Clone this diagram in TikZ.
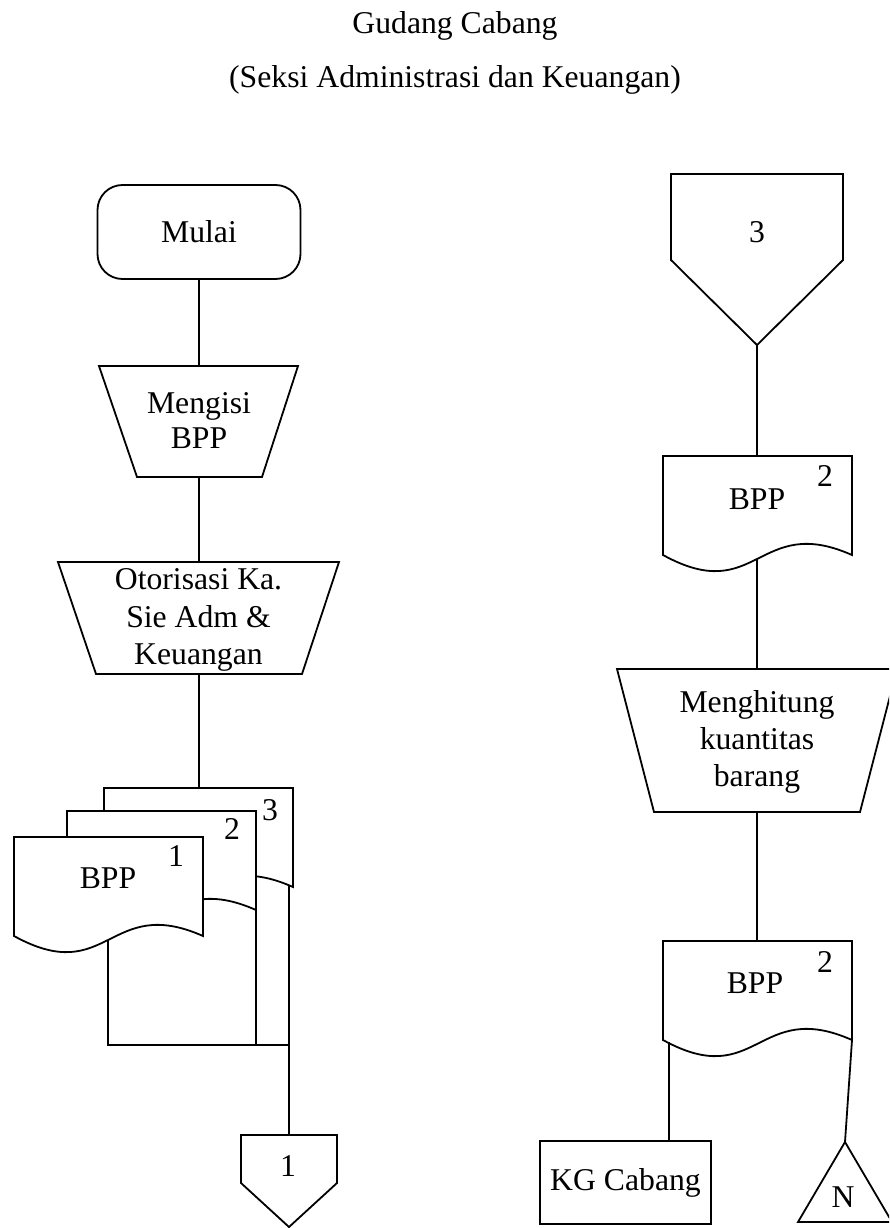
\documentclass[tikz,border=0pt]{standalone}
\usepackage{fontspec}
\setmainfont{Liberation Serif}
\begin{document}
% flowchart: Gudang Cabang, Seksi Administrasi dan Keuangan
\newcommand\docpage[2]{%
  \draw[shape line,fill=white] (#1,#2) -- ({#1+189},#2) -- ({#1+189},{#2+99})
    .. controls ({#1+94.5},{#2+99-42}) and ({#1+94.5},{#2+99+52}) .. (#1,{#2+99}) -- cycle;}
\begin{tikzpicture}[x=1pt,y=-1pt,
  shape line/.style={line width=1.8pt,line join=miter},
  link/.style={line width=1.8pt},
  label/.style={inner sep=0pt,font=\fontsize{31.7}{37}\selectfont},
  multiline/.style={label,align=center},
  boxnode/.style={draw,shape line,label,rectangle}]
\clip (0,0) rectangle (889,1228);
\fill[white] (0,0) rectangle (889,1228);

% heading
\node[label,anchor=base] (title1) at (455,33.5) {Gudang Cabang};
\node[label,anchor=base] (title2) at (455,88) {(Seksi Administrasi dan Keuangan)};

% ---------- left column ----------
\node[boxnode,rounded corners=25pt,minimum width=203pt,minimum height=94pt] (mulai) at (199,232) {Mulai};

\draw[shape line] (99,366) -- (298,366) -- (262,477) -- (137,477) -- cycle;
\coordinate (mengisiN) at (199,366);
\coordinate (mengisiS) at (199,477);
\node[multiline,font=\fontsize{31.7}{35}\selectfont] (mengisi) at (199,421) {Mengisi\\BPP};

\draw[shape line] (58,562) -- (339,562) -- (302,674) -- (96,674) -- cycle;
\coordinate (otorN) at (199,562);
\coordinate (otorS) at (199,674);
\node[multiline,font=\fontsize{31.7}{37.5}\selectfont] (otor) at (198.5,620) {Otorisasi Ka.\\Sie Adm \&\\Keuangan};

% stack of three copies of BPP
\docpage{104}{788}
\docpage{67}{811}
\docpage{14}{837}
\coordinate (stackN) at (199,788);
\node[label] (nr3) at (270,810) {3};
\node[label] (nr2) at (232,829) {2};
\node[label] (nr1) at (176,856) {1};
\node[label] (bppA) at (108,878) {BPP};

\coordinate (doc1foot) at (108,940);
\coordinate (doc2foot) at (256,910);
\coordinate (doc3foot) at (289,886);
\coordinate (joinL) at (108,1045);
\coordinate (joinM) at (256,1045);
\coordinate (joinR) at (289,1045);

% off-page connector 1
\draw[shape line] (241,1135) -- (337,1135) -- (337,1183) -- (289,1227) -- (241,1183) -- cycle;
\coordinate (conAN) at (289,1135);
\node[label] (conA) at (288,1166) {1};

\draw[link] (mulai.south) -- (mengisiN);
\draw[link] (mengisiS) -- (otorN);
\draw[link] (otorS) -- (stackN);
\draw[link] (doc1foot) -- (joinL) -- (joinR);
\draw[link] (doc2foot) -- (joinM);
\draw[link] (doc3foot) -- (joinR) -- (conAN);

% ---------- right column ----------
\draw[shape line] (671,174) -- (843,174) -- (843,260) -- (757,345) -- (671,260) -- cycle;
\coordinate (conBS) at (757,345);
\node[label] (conB) at (757,232) {3};

\docpage{663}{456}
\coordinate (bppBN) at (757,456);
\coordinate (bppBS) at (757,559);
\node[label] (bppB) at (757,499) {BPP};
\node[label] (nrB) at (825,476) {2};

\draw[shape line] (617,669) -- (897,669) -- (860,812) -- (654,812) -- cycle;
\coordinate (hitungN) at (757,669);
\coordinate (hitungS) at (757,812);
\node[multiline] (hitung) at (757,742) {Menghitung\\kuantitas\\barang};

\docpage{663}{941}
\coordinate (bppCN) at (757,941);
\coordinate (bppCL) at (669,1042);
\coordinate (bppCR) at (852,1040);
\node[label] (bppC) at (755,983) {BPP};
\node[label] (nrC) at (825,962) {2};

\node[boxnode,minimum width=171pt,minimum height=83pt] (kg) at (625.5,1182.5) {KG Cabang};

\draw[shape line] (845,1142) -- (892,1222) -- (798,1222) -- cycle;
\coordinate (fileTop) at (845,1142);
\node[label] (fileN) at (843,1197) {N};

\draw[link] (conBS) -- (bppBN);
\draw[link] (bppBS) -- (hitungN);
\draw[link] (hitungS) -- (bppCN);
\draw[link] (bppCL) -- (bppCL |- kg.north);
\draw[link] (bppCR) -- (fileTop);
\end{tikzpicture}
\end{document}
